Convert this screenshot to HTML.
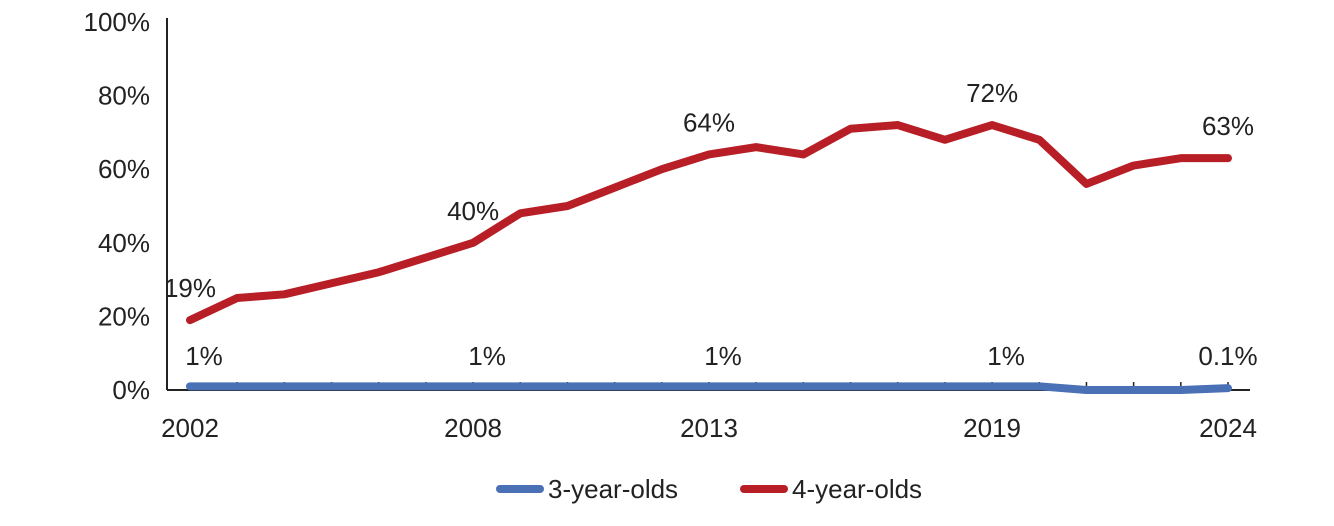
<!DOCTYPE html>
<html><head><meta charset="utf-8"><style>
body{margin:0;background:#fff;}
svg text{font-family:"Liberation Sans",sans-serif;fill:#222;}
</style></head><body>
<svg id="chart" width="1334" height="521"></svg>
<script>
const years=[2002,2003,2004,2005,2006,2007,2008,2009,2010,2011,2012,2013,2014,2015,2016,2017,2018,2019,2020,2021,2022,2023,2024];
const fourYear=[19,25,26,29,32,36,40,48,50,55,60,64,66,64,71,72,68,72,68,56,61,63,63];
const threeYear=[1,1,1,1,1,1,1,1,1,1,1,1,1,1,1,1,1,1,1,0,0,0,0.5];
const yTicks=[0,20,40,60,80,100];
const xLabels=[2002,2008,2013,2019,2024];
const fourLabels=[[2002,"19%"],[2008,"40%"],[2013,"64%"],[2019,"72%"],[2024,"63%"]];
const threeLabels=[[2002,"1%"],[2008,"1%"],[2013,"1%"],[2019,"1%"],[2024,"0.1%"]];

const svg=document.getElementById('chart');
const NS='http://www.w3.org/2000/svg';
const x0=190,x1=1228,yBase=390,yTop=22;
const X=y=>x0+(years.indexOf(y))*(x1-x0)/(years.length-1);
const Xi=i=>x0+i*(x1-x0)/(years.length-1);
const Y=v=>yBase-v*(yBase-yTop)/100;
function mk(t,a,txt){const e=document.createElementNS(NS,t);for(const k in a)e.setAttribute(k,a[k]);if(txt!==undefined)e.textContent=txt;svg.appendChild(e);return e;}

yTicks.forEach(v=>{
  const t=mk('text',{x:150,y:Y(v)+9,'text-anchor':'end','font-size':26},v+'%');
  
  
});
const ya=mk('line',{x1:167,y1:18,x2:167,y2:yBase,stroke:'#222','stroke-width':2});


const xa=mk('line',{x1:167,y1:yBase,x2:1250,y2:yBase,stroke:'#222','stroke-width':2});


years.forEach((y,i)=>{ if(i===0)return;
  const t=mk('line',{x1:Xi(i),y1:yBase,x2:Xi(i),y2:yBase-8,stroke:'#222','stroke-width':1.5});
  
  
});
xLabels.forEach(y=>{
  const t=mk('text',{x:X(y),y:437,'text-anchor':'middle','font-size':26},String(y));
  
  
});
function line(vals,color,name){
  const p=mk('polyline',{points:vals.map((v,i)=>Xi(i)+','+Y(v)).join(' '),fill:'none',stroke:color,'stroke-width':8,'stroke-linejoin':'round','stroke-linecap':'round'});
  
  
}
line(threeYear,'#4a70b5','three-year-olds-line');
line(fourYear,'#b81e25','four-year-olds-line');
fourLabels.forEach(([y,l])=>{
  const i=years.indexOf(y);
  const t=mk('text',{x:X(y),y:Y(fourYear[i])-23,'text-anchor':'middle','font-size':26},l);
  
  
});
threeLabels.forEach(([y,l])=>{
  const t=mk('text',{x:X(y)+(y===2024?0:14),y:365,'text-anchor':'middle','font-size':26},l);
  
  
});
const l1=mk('line',{x1:500,y1:489,x2:540,y2:489,stroke:'#4a70b5','stroke-width':8,'stroke-linecap':'round'});


const t1=mk('text',{x:548,y:498,'font-size':26},'3-year-olds');


const l2=mk('line',{x1:744,y1:489,x2:784,y2:489,stroke:'#b81e25','stroke-width':8,'stroke-linecap':'round'});


const t2=mk('text',{x:792,y:498,'font-size':26},'4-year-olds');


</script>
</body></html>
